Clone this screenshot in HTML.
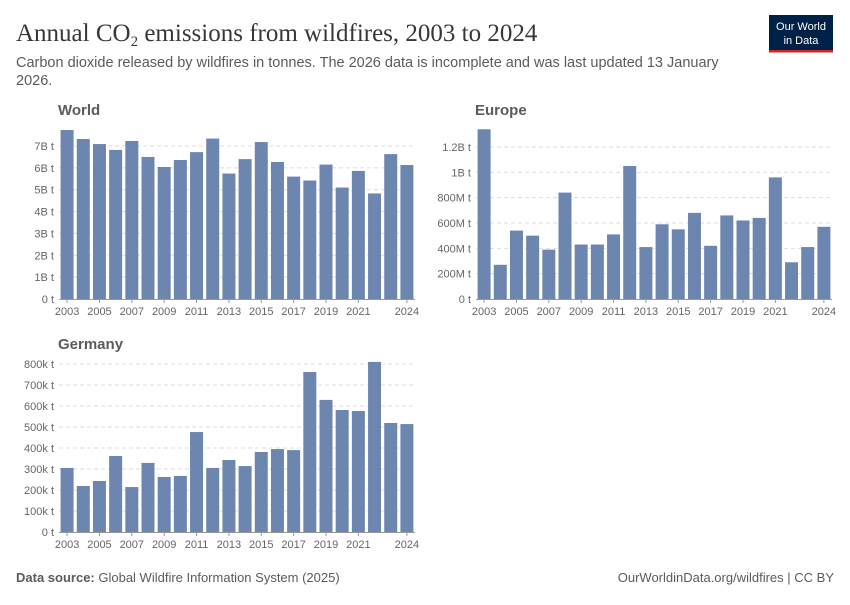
<!DOCTYPE html>
<html><head><meta charset="utf-8">
<style>
body{margin:0;background:#fff;width:850px;height:600px;overflow:hidden;font-family:"Liberation Sans",sans-serif;}
</style></head>
<body>
<svg id="chart" width="850" height="600" xmlns="http://www.w3.org/2000/svg">
<text x="16" y="41" font-family="Liberation Serif, serif" font-size="25" fill="#373737">Annual CO<tspan font-size="15" dy="5">2</tspan><tspan dy="-5"> emissions from wildfires, 2003 to 2024</tspan></text>
<text font-size="14.5" fill="#5b5b5b"><tspan x="16" y="67">Carbon dioxide released by wildfires in tonnes. The 2026 data is incomplete and was last updated 13 January</tspan><tspan x="16" y="85">2026.</tspan></text>
<g>
<rect x="769" y="15" width="64" height="37" fill="#002147"/>
<rect x="769" y="50" width="64" height="2.5" fill="#ce261e"/>
<text x="801" y="30" font-size="11" fill="#fff" text-anchor="middle">Our World</text>
<text x="801" y="44" font-size="11" fill="#fff" text-anchor="middle">in Data</text>
</g>
<g id="panels"></g>
<text x="16" y="582" font-size="13" fill="#5b5b5b"><tspan font-weight="bold">Data source:</tspan> Global Wildfire Information System (2025)</text>
<text x="834" y="582" font-size="13" fill="#5b5b5b" text-anchor="end">OurWorldinData.org/wildfires | CC BY</text>
</svg>
<script>
const years=[2003,2004,2005,2006,2007,2008,2009,2010,2011,2012,2013,2014,2015,2016,2017,2018,2019,2020,2021,2022,2023,2024];
const yearTicks=[2003,2005,2007,2009,2011,2013,2015,2017,2019,2021,2024];
const worldValues=[7.73,7.32,7.09,6.82,7.23,6.5,6.04,6.36,6.72,7.34,5.74,6.4,7.18,6.27,5.6,5.42,6.15,5.1,5.86,4.83,6.63,6.13];
const worldTicks=[0,1,2,3,4,5,6,7];
const worldTickLabels=["0 t","1B t","2B t","3B t","4B t","5B t","6B t","7B t"];
const europeValues=[1.34,0.27,0.54,0.50,0.39,0.84,0.43,0.43,0.51,1.05,0.41,0.59,0.55,0.68,0.42,0.66,0.62,0.64,0.96,0.29,0.41,0.57];
const europeTicks=[0,0.2,0.4,0.6,0.8,1.0,1.2];
const europeTickLabels=["0 t","200M t","400M t","600M t","800M t","1B t","1.2B t"];
const germanyValues=[305,219,243,362,214,329,262,267,476,305,343,314,381,395,390,762,629,581,576,810,519,514];
const germanyTicks=[0,100,200,300,400,500,600,700,800];
const germanyTickLabels=["0 t","100k t","200k t","300k t","400k t","500k t","600k t","700k t","800k t"];

const NS="http://www.w3.org/2000/svg";
const root=document.getElementById('panels');
function mk(tag,attrs,parent){const e=document.createElementNS(NS,tag);for(const k in attrs)e.setAttribute(k,attrs[k]);parent.appendChild(e);return e;}
function panel(name,title,values,ticks,labels,x0,x1,yBase,yTopVal,yTopPx,titleY){
  const g=mk('g',{},root);
  
  
  const t=mk('text',{x:x0-1,y:titleY,'font-size':15,'font-weight':'bold',fill:'#5b5b5b'},g);t.textContent=title;
  
  
  const y=v=>yBase-(v/yTopVal)*(yBase-yTopPx);
  const step=(x1-x0)/years.length;
  const xc=i=>x0+step*(i+0.5);
  ticks.forEach((v,i)=>{
    if(v>0){const l=mk('line',{x1:x0,x2:x1,y1:y(v),y2:y(v),stroke:'#ddd','stroke-dasharray':'4,3'},g);
      
      }
    const tx=mk('text',{x:x0-5,y:y(v)+4,'font-size':11,fill:'#666','text-anchor':'end'},g);tx.textContent=labels[i];
    
    
  });
  values.forEach((v,i)=>{
    const r=mk('rect',{x:xc(i)-6.5,y:y(v),width:13,height:yBase-y(v),fill:'#6d86b0'},g);
    
    
  });
  const ax=mk('line',{x1:x0,x2:x1,y1:yBase+0.5,y2:yBase+0.5,stroke:'#999'},g);
  
  
  yearTicks.forEach(yr=>{
    const i=years.indexOf(yr);
    mk('line',{x1:xc(i),x2:xc(i),y1:yBase,y2:yBase+4,stroke:'#999'},g);
    const tx=mk('text',{x:xc(i),y:yBase+16,'font-size':11,fill:'#666','text-anchor':'middle'},g);tx.textContent=yr;
    
    
  });
}
panel('world','World',worldValues,worldTicks,worldTickLabels,59,415,299,7,146,115);
panel('europe','Europe',europeValues,europeTicks,europeTickLabels,476,832,299,1.2,147,115);
panel('germany','Germany',germanyValues,germanyTicks,germanyTickLabels,59,415,532,800,364,349);
</script>
</body></html>
